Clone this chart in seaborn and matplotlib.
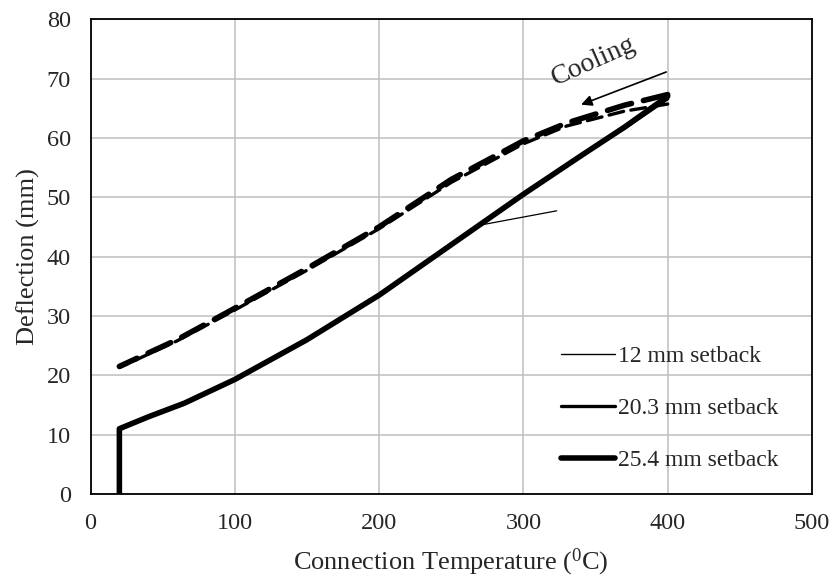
import seaborn as sns
import numpy as np
import pandas as pd
import matplotlib.pyplot as plt

# heating branch (solid)
heat_T = [20, 20, 40, 65, 100, 150, 200, 250, 300, 340, 370, 400]
heat_12 = [0, 11, 13, 15.3, 19.3, 26, 33.5, 42, 50.5, 57, 61.6, 66.5]
heat_203 = [0, 11, 13, 15.3, 19.3, 26, 33.5, 42, 50.5, 57, 61.6, 66.6]
heat_254 = [0, 11, 13, 15.3, 19.3, 26, 33.5, 42, 50.5, 57, 61.8, 67]

# cooling branch (dashed)
cool_T = [400, 370, 330, 300, 250, 200, 150, 100, 60, 20]
cool_203 = [65.7, 64.5, 62, 59, 52.5, 44.7, 37.7, 31, 25.8, 21.3]
cool_254 = [67.3, 65.5, 62.5, 59.5, 53, 45, 38, 31.3, 26, 21.5]

labels = ['12 mm setback', '20.3 mm setback', '25.4 mm setback']
widths = [1.0, 2.4, 4.0]

sns.set_style('white')
plt.rcParams['font.family'] = ['Liberation Serif', 'DejaVu Serif']
plt.rcParams['mathtext.fontset'] = 'custom'
plt.rcParams['mathtext.rm'] = 'Liberation Serif'

fig = plt.figure(figsize=(8.35, 5.77), dpi=100)
ax = fig.add_axes([0.1084, 0.1438, 0.864, 0.823])

heat = [heat_12, heat_203, heat_254]
for lab, lw, yv in zip(labels, widths, heat):
    df = pd.DataFrame({'T': heat_T, 'd': yv})
    sns.lineplot(data=df, x='T', y='d', sort=False, estimator=None, color='black',
                 lw=lw, label=lab, ax=ax, solid_capstyle='round', zorder=3)

for lw, yv in zip(widths[1:], [cool_203, cool_254]):
    df = pd.DataFrame({'T': cool_T, 'd': yv})
    sns.lineplot(data=df, x='T', y='d', sort=False, estimator=None, color='black',
                 lw=lw, ax=ax, zorder=3, legend=False)
    ax.lines[-1].set_linestyle((0, (4.5, 2.2)))
    ax.lines[-1].set_dash_capstyle('round')

# leader line
ax.annotate('', xy=(270, 45.3), xytext=(325, 47.8),
            arrowprops=dict(arrowstyle='-', color='black', lw=0.9))

# cooling arrow
ax.annotate('', xy=(340, 65.6), xytext=(399, 71.1),
            arrowprops=dict(arrowstyle='-|>', color='black', lw=1.2,
                            mutation_scale=16, shrinkA=0, shrinkB=0))
ax.text(349, 72.8, 'Cooling', rotation=24, fontsize=20, ha='center', va='center')

ax.set_xlim(0, 500)
ax.set_ylim(0, 80)
ax.set_xticks(range(0, 501, 100))
ax.set_yticks(range(0, 81, 10))
ax.grid(True, color='#BFBFBF', lw=1.1)
ax.set_axisbelow(True)
for s in ax.spines.values():
    s.set_color('black')
    s.set_linewidth(1.3)
ax.tick_params(axis='x', length=0, labelsize=17.5, pad=14)
ax.tick_params(axis='y', length=0, labelsize=17.5, pad=14)
ax.set_xlabel(r'Connection Temperature ($\mathregular{^0}$C)', fontsize=19, labelpad=9)
ax.set_ylabel('Deflection (mm)', fontsize=19, labelpad=5)

ax.legend(loc='upper left', bbox_to_anchor=(0.636, 0.338), frameon=False,
          fontsize=17, handlelength=2.3, handletextpad=0.12, labelspacing=1.3,
          borderpad=0)

fig.savefig('out.png', dpi=100)
